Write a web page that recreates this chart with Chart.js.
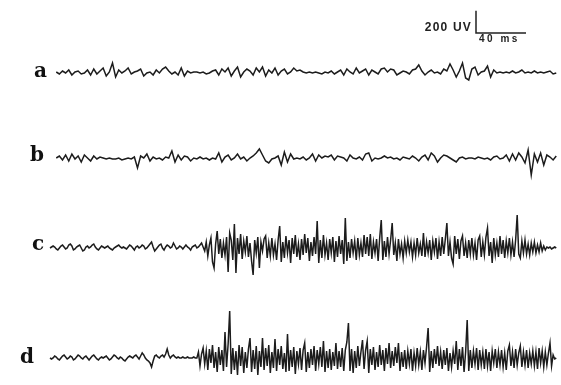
<!DOCTYPE html>
<html>
<head>
<meta charset="utf-8">
<script src="https://cdn.jsdelivr.net/npm/chart.js@4/dist/chart.umd.min.js"></script>
<style>
  html, body { margin: 0; padding: 0; background: #ffffff; }
  #wrap { position: relative; width: 561px; height: 385px; }
  canvas { display: block; }
</style>
</head>
<body>
<div id="wrap"><canvas id="eeg" width="561" height="385"></canvas></div>
<script>
// ---- data ----
const traceLabels = ['a', 'b', 'c', 'd'];
const sampleMs = [2.5, 2.5, 1.25, 1.25];    // sampling interval of each trace (ms)
const scaleBarUV = 200;                      // vertical calibration (µV)
const scaleBarMs = 40;                       // horizontal calibration (ms)
const scaleBarTexts = ['200 UV', '40 ms'];

// amplitudes in µV, one value per sample
const traceA = [null, null,
  9, -9, 18, 0, 27, -18, 9, 18, -9,
  0, 27, -18, 36, -9, 18, 45, -27, 9,
  90, -36, 27, 0, 18,
  45, -9, 9, 18, 36, -27, 0, 9, -18, 27,
  0, 36, 54, 18, -9, 9, -18, 45,
  -27, 18, 0, 9, 9, 0, 9, -9, 0, 18,
  27, -18, 36, 9, 45, -27, 18, 54, -36, 9,
  36, 18, -18, 45, 9, 54, -27, 27, 0, 45, -18, 18, 36, -9, 9,
  45, 18, 27, 9, 0, 9, 0, 9, 0, -9, 9, 0, 18, -9, 9,
  27, -18, 36, 9, -9, 45, 0, 18, 36, -18, 27, 9, -9, 36,
  45, 9, 36, 27, -18, 0, 18, 9, -9, 27, 36,
  72, 18, -18, 9, 27, 0, 9, -9, 36, 18, 81, 27, -36, 18, 90, -45, -63, 36, 54, -18, 9, 18, 63, -36, 27, 0,
  9, 0, 9, 0, 18, 0, 9, 27, 0, 9, 0, 18, 0, 9, 0, 9, 18, -9, 0];

const traceB = [null, null,
  9, 27, -9, 36, -18, 45, 0, 27, -27, 36, 9, -18, 27, 0,
  18, 9, 0, 9, 0, 0, 9, -9, 0, 9, 0, 18,
  -81, 27, 9, 45, -18, 18, 0, 9, -9, 18,
  9, 72, -27, 36, -9, 27, 18, -18, 9, 0, 18,
  0, 9, -9, 9, 0, 54, -27, 18, 36, -9,
  9, 45, 0, 18, -18, 9, 27, 54, 90,
  36, -18, -36, 0, 9, 27, -54, 63, -27, 45,
  0, 9, 0, 18, -9, 9, 45, -18, 36, 9, 27, 18, 36, -9, 27,
  18, 9, -18, 36, 9, 0, 18, -9, 45, 54, -18, 9, 0, 9,
  27, 9, 18, 0, 9, -9, 18, 9, 0, 27,
  9, -18, 18, 36, -9, 54, 27, -27, 9, 36, 27, 9, -9, -27, 9,
  18, 0, 9, 9, 0, 18, 9, 0, 9, -9, 18, 27, 0, 9,
  36, -18, 45, -9, 54, 18, -36, 81, -144, 45, -27, 54, -54, 36, 18, -9, 27];

const traceC = [
  0, 9, 18, 9, -9, -18, 0, 18, 27, 9, -9, 0, 27, 36, 18, -18, -9, 9, 18, 27,
  0, -27, -18, 9, 18, 0, 9, 27, 36, 9, -9, -18, 0, 18, 9, 0, 9, 18, 0, -9,
  -18, 0, 9, 18, 27, 9, 0, 9, 0, -9, 9, 27, 18, 0, -18, 9, 18, 0, 9, 27,
  18, -9, 0, 18, 36, 54, 9, -27, -9, 9, 27, 36, 0, -18, 9, 27, 18, 0, 9, 45,
  18, -9, 0, 18, 9, -9, 9, 27, 9, 0, -18, 9, 18, 27, 0, 9, 27, 45, 9, -27,
  54, -72, 27, 90, -126, -180, 36, 153, -54, 81,
  -90, 45, -63, 99, -216, 135, 72, -108, 216, -225,
  90, -54, 126, -99, 63, -36, 108, -81, 45, -117,
  -243, 72, -45, 99, -180, 54, -27, 81, 108, -90,
  45, -72, 90, -63, 36, -108, 72, 198, -126, 54,
  -90, 108, -45, 72, -135, 90, -54, 117, -81, 36,
  -108, 81, -63, 126, -45, 90, -117, 54, -72, 99,
  -54, 243, -135, 72, -90, 117, -63, 45, -108, 81,
  -45, 99, -126, 63, -81, 108, -54, 72, -144, 270,
  -117, 54, -90, 81, -45, 63, -108, 90, -63, 45,
  -81, 117, -54, 99, -72, 126, -99, 54, -45, 81,
  -117, 90, 252, -108, 63, -81, 99, -54, 72, 225,
  -63, 45, -117, 81, -54, 36, -90, 63, -45, 72,
  -36, 54, -81, 45, -63, 90, -45, 36, -72, 135,
  -81, 54, -45, 72, -108, 63, -36, 90, -99, 54,
  -72, 99, -54, 81, 225, -72, 54, -90, -144, 108,
  -54, 81, -99, 63, 108, -72, 45, -90, 72, -54,
  90, -63, 45, -108, 72, 108, -81, 54, -63, 99,
  180, -72, 54, -135, 90, -63, 45, -81, 108, -54,
  72, -90, 63, -45, 90, -63, 54, -81, 72, 297,
  -54, -90, 63, -45, 72, -54, 36, -63, 45, -36,
  54, -45, 27, -36, 45, -27, 18, -18, 9, 0,
  9, -9, 0, 9, 0];

const traceD = [
  0, -9, 0, 18, 9, -9, -18, 0, 18, 27, 9, -9, 0, 18, 9, -18, -9, 9, 27, 18,
  0, -9, 9, 18, 0, -18, 0, 18, 27, 9, -9, -18, 0, 9, 0, 9, 18, 0, -18, -9,
  9, 27, 18, 0, -9, 9, 0, -18, -27, -9, 9, 18, 9, 0, 18, 27, 9, -9, 18, 45,
  27, 0, -18, -27, -45, -81, -27, 18, 27, 9, 0, 18, 27, 9, 36, 81, 27, 0, 18, 27,
  9, 0, 9, 0, 0, 9, 0, 0, 9, 0, 0, 0, 9, 0, 0,
  54, -72, 36, 90, -54,
  63, -108, 81, -45, 117, -90, 54, -126, 99, -63,
  72, -117, 234, -81, 126, 423, -144, 90, -108, 63,
  -153, 117, -72, 99, -135, 54, -90, 81, 180, -126,
  72, -99, 108, -153, 63, -81, 180, -108, 90, -72,
  117, -135, 54, -90, 171, -117, 81, -63, 108, -99,
  45, -126, 216, -117, 72, -81, 99, -144, 63, -54,
  90, -108, 72, 135, -126, 54, -90, 81, -63, 108,
  -117, 72, -54, 99, -81, 153, -126, 63, -90, 81,
  -108, 54, -72, 135, -99, 63, -81, 90, -117, 72,
  144, 315, -117, 81, -135, 63, -90, 108, -72, 54,
  162, -99, 72, 153, -135, 81, -63, 99, -108, 54,
  -81, 117, -63, 72, -117, 90, -54, 135, -90, 63,
  -72, 99, -45, 135, -117, 54, -81, 72, -99, 63,
  -54, 81, -117, 45, -72, 90, -63, 54, -108, 72,
  -45, 99, 270, -126, 63, -90, 81, -54, 108, -72,
  54, -99, 72, -63, 90, -117, 45, -81, 63, -54,
  153, -108, 81, -72, 99, -126, 54, 342, -117, 72,
  -90, 63, -54, 90, -108, 72, -63, 54, -99, 81,
  -72, 54, -117, 63, -45, 81, -90, 54, -63, 72,
  -81, 45, -108, 63, 117, -72, 54, -90, 81, -63,
  45, 108, -81, 54, -63, 72, -90, 45, -54, 63,
  -72, 54, -99, 90, -45, 63, -81, 54, -63, 45,
  135, -72, 27, -9, 0];

// ---- build chart ----
const traces = [traceA, traceB, traceC, traceD];
const axisIds = ['ya', 'yb', 'yc', 'yd'];
const toPoints = (arr, dt) => arr.map((v, i) => ({ x: i * dt, y: v }));

const UV_PER_PX = 9;
const H = 385;
const baselinePx = [73, 159, 248, 358];      // layout: vertical placement of each channel
function axisFor(b) {
  return { type: 'linear', display: false, min: -(H - b) * UV_PER_PX, max: b * UV_PER_PX };
}

const labelPlugin = {
  id: 'traceLabels',
  afterDraw(chart) {
    const ctx = chart.ctx;
    const pos = [[34, 77], [30, 161], [32, 250], [20, 363]];
    ctx.save();
    ctx.fillStyle = '#111';
    ctx.font = 'bold 20px "DejaVu Serif"';
    ctx.textBaseline = 'alphabetic';
    ctx.textAlign = 'left';
    traceLabels.forEach((t, i) => ctx.fillText(t, pos[i][0], pos[i][1]));

    // calibration bar
    const xs = chart.scales.x, ys = chart.scales.ya;
    const w = xs.getPixelForValue(scaleBarMs) - xs.getPixelForValue(0);
    const h = ys.getPixelForValue(0) - ys.getPixelForValue(scaleBarUV);
    const cx = 476, cy = 33;
    ctx.strokeStyle = '#222';
    ctx.lineWidth = 1.5;
    ctx.beginPath();
    ctx.moveTo(cx, cy - h);
    ctx.lineTo(cx, cy);
    ctx.lineTo(cx + w, cy);
    ctx.stroke();
    ctx.fillStyle = '#222';
    ctx.font = 'bold 12px "Liberation Sans"';
    ctx.letterSpacing = '1.2px';
    ctx.textAlign = 'right';
    ctx.textBaseline = 'middle';
    ctx.fillText(scaleBarTexts[0], cx - 4, 28);
    ctx.font = 'bold 10px "Liberation Sans"';
    ctx.letterSpacing = '2.5px';
    ctx.textAlign = 'left';
    ctx.textBaseline = 'alphabetic';
    ctx.fillText(scaleBarTexts[1], cx + 3, 42);
    ctx.restore();
  }
};

const scales = { x: { type: 'linear', display: false, min: -40, max: 408.8 } };
axisIds.forEach((id, i) => { scales[id] = axisFor(baselinePx[i]); });

new Chart(document.getElementById('eeg'), {
  type: 'line',
  data: {
    datasets: traces.map((t, i) => ({
      label: traceLabels[i],
      data: toPoints(t, sampleMs[i]),
      yAxisID: axisIds[i],
      borderColor: '#1c1c1c',
      borderWidth: 1.5,
      pointRadius: 0,
      tension: 0,
      spanGaps: false,
      fill: false
    }))
  },
  options: {
    responsive: false,
    animation: false,
    layout: { padding: 0 },
    plugins: { legend: { display: false }, tooltip: { enabled: false }, title: { display: false } },
    scales
  },
  plugins: [labelPlugin]
});
</script>
</body>
</html>
